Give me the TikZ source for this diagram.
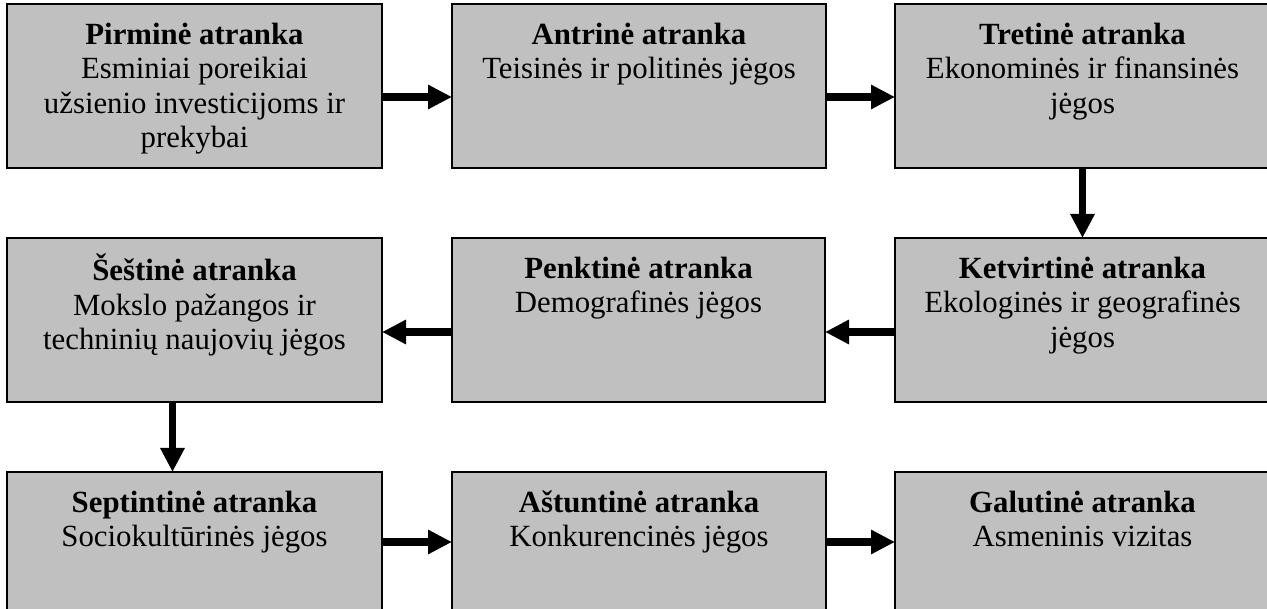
\documentclass[tikz,border=0pt]{standalone}
\usepackage{fontspec}
\setmainfont{Liberation Serif}
\usetikzlibrary{arrows.meta}
\definecolor{boxgray}{HTML}{C0C0C0}
\tikzset{
  stage/.style={draw=black, line width=1.3pt, fill=boxgray,
    minimum width=375pt, minimum height=164pt, inner sep=0pt, outer sep=0pt},
  stagetext/.style={anchor=north, inner sep=0pt, align=center,
    font=\fontsize{30.8pt}{34.5pt}\selectfont},
  flow/.style={line width=7.5pt, -{Triangle[length=24pt,width=23pt]}}
}
\newcommand{\stagelabel}[3]{%
  \node[stagetext] (#1t) at ([yshift=-15.85pt]#1.north) {\strut\textbf{#2}\\#3};}
\begin{document}
\begin{tikzpicture}[x=1pt,y=-1pt]
\useasboundingbox (0,0) rectangle (1267,609);
\clip (0,0) rectangle (1267,609);

% first row
\node[stage] (b1) at (194.5,86) {};
\node[stage, minimum width=374pt] (b2) at (639,86) {};
\node[stage] (b3) at (1082.5,86) {};
% second row
\node[stage] (b4) at (194.5,320) {};
\node[stage, minimum width=373pt] (b5) at (638.5,320) {};
\node[stage] (b6) at (1082.5,320) {};
% third row
\node[stage] (b7) at (194.5,554) {};
\node[stage, minimum width=374pt] (b8) at (639,554) {};
\node[stage] (b9) at (1082.5,554) {};

\stagelabel{b1}{Pirminė atranka}{Esminiai poreikiai\\užsienio investicijoms ir\\prekybai}
\stagelabel{b2}{Antrinė atranka}{Teisinės ir politinės jėgos}
\stagelabel{b3}{Tretinė atranka}{Ekonominės ir finansinės\\jėgos}
\stagelabel{b4}{Šeštinė atranka}{Mokslo pažangos ir\\techninių naujovių jėgos}
\stagelabel{b5}{Penktinė atranka}{Demografinės jėgos}
\stagelabel{b6}{Ketvirtinė atranka}{Ekologinės ir geografinės\\jėgos}
\stagelabel{b7}{Septintinė atranka}{Sociokultūrinės jėgos}
\stagelabel{b8}{Aštuntinė atranka}{Konkurencinės jėgos}
\stagelabel{b9}{Galutinė atranka}{Asmeninis vizitas}

% connectors (yshift is measured upwards)
\draw[flow] ([yshift=-11pt]b1.east) -- ([yshift=-11pt]b2.west);
\draw[flow] ([yshift=-11pt]b2.east) -- ([yshift=-11pt]b3.west);
\draw[flow] (b3.south) -- (b6.north);
\draw[flow] ([yshift=-12pt]b6.west) -- ([yshift=-12pt]b5.east);
\draw[flow] ([yshift=-12pt]b5.west) -- ([yshift=-12pt]b4.east);
\draw[flow] ([xshift=-22pt]b4.south) -- ([xshift=-22pt]b7.north);
\draw[flow] ([yshift=12pt]b7.east) -- ([yshift=12pt]b8.west);
\draw[flow] ([yshift=12pt]b8.east) -- ([yshift=12pt]b9.west);
\end{tikzpicture}
\end{document}
